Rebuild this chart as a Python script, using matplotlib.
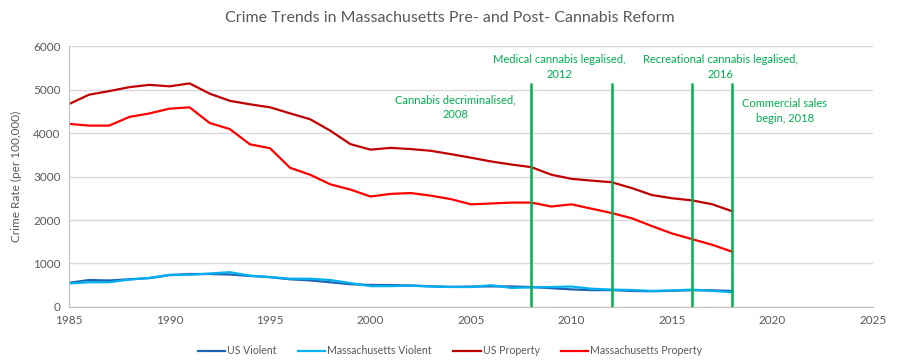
import matplotlib
matplotlib.use("Agg")
import matplotlib.pyplot as plt

plt.rcParams['font.family'] = ['Lato', 'DejaVu Sans']

years = list(range(1985, 2019))

us_violent = [556, 620, 610, 637, 663, 732, 758, 758, 747, 714, 685, 637, 611, 568,
              523, 507, 504, 494, 476, 463, 469, 474, 472, 459, 432, 405, 387, 388,
              369, 362, 373, 386, 383, 369]
ma_violent = [540, 570, 570, 630, 670, 740, 740, 770, 800, 720, 690, 650, 650, 620,
              550, 480, 480, 490, 470, 460, 460, 500, 440, 450, 460, 470, 420, 400,
              390, 370, 380, 400, 370, 340]
us_property = [4666, 4881, 4963, 5054, 5107, 5073, 5140, 4904, 4740, 4660, 4591, 4451,
               4316, 4053, 3744, 3618, 3658, 3631, 3591, 3514, 3432, 3346, 3276, 3215,
               3041, 2946, 2905, 2868, 2734, 2574, 2500, 2451, 2362, 2200]
ma_property = [4210, 4170, 4170, 4370, 4450, 4560, 4590, 4230, 4090, 3740, 3650, 3200,
               3040, 2820, 2700, 2540, 2600, 2620, 2560, 2480, 2360, 2380, 2400, 2400,
               2310, 2360, 2260, 2160, 2040, 1860, 1690, 1560, 1430, 1270]

events = [2008, 2012, 2016, 2018]
event_labels = ["Cannabis decriminalised,\n2008", "Medical cannabis legalised,\n2012",
                "Recreational cannabis legalised,\n2016", "Commercial sales\nbegin, 2018"]
label_pos = [(2004.2, 4590), (2009.4, 5520), (2017.4, 5520), (2020.6, 4500)]

green = '#00B050'
grey = '#595959'

fig = plt.figure(figsize=(9, 3.64), dpi=100)
ax = fig.add_axes([0.0767, 0.1566, 0.8933, 0.717])

ax.plot(years, us_violent, color='#1F64B0', lw=1.6, label='US Violent')
ax.plot(years, ma_violent, color='#00B0F0', lw=1.6, label='Massachusetts Violent')
ax.plot(years, us_property, color='#C00000', lw=1.6, label='US Property')
ax.plot(years, ma_property, color='#FF0000', lw=1.6, label='Massachusetts Property')

ax.vlines(events, 0, 5150, color=green, lw=1.8, zorder=3)
for (x, y), txt in zip(label_pos, event_labels):
    ax.text(x, y, txt, color=green, fontsize=8, ha='center', va='center', linespacing=1.4)

ax.set_xlim(1985, 2025)
ax.set_ylim(0, 6000)
ax.set_xticks(range(1985, 2026, 5))
ax.set_yticks(range(0, 6001, 1000))
ax.grid(axis='y', color='#D9D9D9', lw=1)
ax.set_axisbelow(True)
for s in ['top', 'right']:
    ax.spines[s].set_visible(False)
for s in ['left', 'bottom']:
    ax.spines[s].set_color('#BFBFBF')
ax.tick_params(length=0, labelsize=8.5, labelcolor=grey, pad=6)

ax.set_ylabel('Crime Rate (per 100,000)', fontsize=8.5, color=grey, labelpad=8)
fig.suptitle('Crime Trends in Massachusetts Pre- and Post- Cannabis Reform',
             fontsize=11.5, color=grey, y=0.97)

fig.legend(loc='lower center', ncol=4, frameon=False, fontsize=7.6,
           bbox_to_anchor=(0.5, -0.005), handlelength=2.6, handletextpad=0.2,
           columnspacing=2.0, labelcolor=grey)

fig.savefig('out.png', dpi=100)
